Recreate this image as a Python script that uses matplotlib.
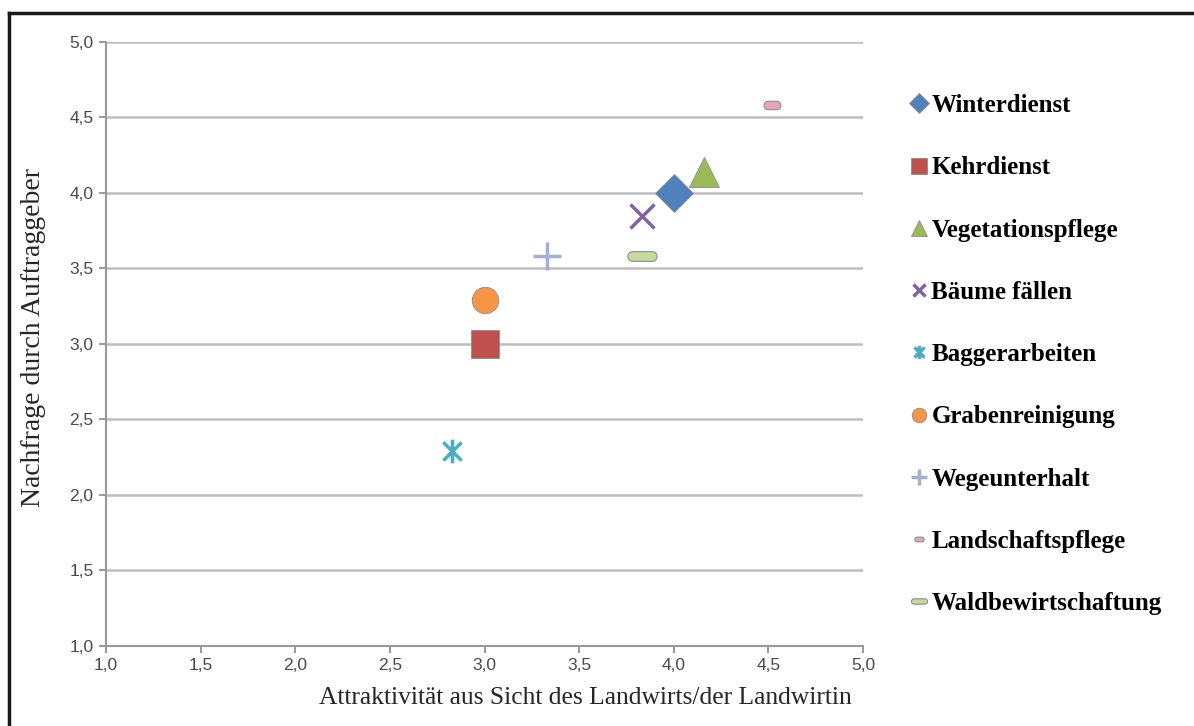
import numpy as np
import matplotlib.pyplot as plt
from matplotlib.path import Path
from matplotlib.lines import Line2D

# data
labels = ['Winterdienst', 'Kehrdienst', 'Vegetationspflege', 'Bäume fällen',
          'Baggerarbeiten', 'Grabenreinigung', 'Wegeunterhalt',
          'Landschaftspflege', 'Waldbewirtschaftung']
attraktivitaet = [4.00, 3.00, 4.16, 3.83, 2.83, 3.00, 3.33, 4.52, 3.83]
nachfrage = [4.00, 3.00, 4.14, 3.85, 2.29, 3.29, 3.58, 4.58, 3.58]
ticks = [1.0, 1.5, 2.0, 2.5, 3.0, 3.5, 4.0, 4.5, 5.0]

colors = ['#4F81BD', '#C0504D', '#9BBB59', '#8064A2', '#4BACC6',
          '#F79646', '#A3B0D6', '#E8A6BC', '#C6DA9E']


def stadium(half_len):
    # rounded bar marker
    t = np.linspace(-np.pi / 2, np.pi / 2, 12)
    right = np.column_stack([half_len + np.cos(t), np.sin(t)])
    left = np.column_stack([-half_len - np.cos(t), -np.sin(t)])
    return Path(np.vstack([right, left, right[:1]]), closed=True)


# asterisk: X with vertical line
star = Path([(-1, -1), (1, 1), (-1, 1), (1, -1), (0, -1.3), (0, 1.3)],
            [Path.MOVETO, Path.LINETO, Path.MOVETO, Path.LINETO, Path.MOVETO, Path.LINETO])

markers = ['D', 's', '^', 'x', star, 'o', '+', stadium(1.0), stadium(2.0)]
filled = [True, True, True, False, False, True, False, True, True]
sizes = [19, 20, 22, 17, 17, 19, 20, 12, 21]
edge_w = [0.6, 0.6, 0.6, 2.5, 2.5, 0.6, 2.5, 0.8, 0.8]

fig = plt.figure(figsize=(11.94, 7.26), dpi=100)
ax = fig.add_axes([0.0888, 0.1102, 0.634, 0.832])

for i, lab in enumerate(labels):
    if filled[i]:
        ax.plot(attraktivitaet[i], nachfrage[i], linestyle='none', marker=markers[i],
                markersize=sizes[i], markerfacecolor=colors[i], markeredgecolor='#8c8c8c',
                markeredgewidth=edge_w[i], label=lab, zorder=3)
    else:
        ax.plot(attraktivitaet[i], nachfrage[i], linestyle='none', marker=markers[i],
                markersize=sizes[i], color=colors[i], markeredgewidth=edge_w[i],
                label=lab, zorder=3)

ax.set_xlim(1.0, 5.0)
ax.set_ylim(1.0, 5.0)
ax.set_xticks(ticks)
ax.set_yticks(ticks)
ax.set_xticklabels([f'{v:.1f}'.replace('.', ',') for v in ticks])
ax.set_yticklabels([f'{v:.1f}'.replace('.', ',') for v in ticks])
ax.tick_params(axis='both', direction='out', length=5, color='#888888', width=1.2,
               labelsize=12.5, labelcolor='#4a4a4a', pad=4)
for lbl in ax.get_xticklabels() + ax.get_yticklabels():
    lbl.set_family('Liberation Sans')

ax.grid(axis='y', color='#BEBEBE', linewidth=1.8)
ax.set_axisbelow(True)
for s in ['top', 'right']:
    ax.spines[s].set_visible(False)
for s in ['left', 'bottom']:
    ax.spines[s].set_color('#999999')
    ax.spines[s].set_linewidth(1.5)

ax.set_xlabel('Attraktivität aus Sicht des Landwirts/der Landwirtin',
              family='Liberation Serif', fontsize=18.4, color='#262626')
ax.xaxis.set_label_coords(0.633, -0.068)
ax.set_ylabel('Nachfrage durch Auftraggeber',
              family='Liberation Serif', fontsize=20, color='#262626')
ax.yaxis.set_label_coords(-0.079, 0.51)

leg = ax.legend(loc='upper left', bbox_to_anchor=(1.049, 0.93), frameon=False,
                markerscale=0.55, handlelength=0.7, handletextpad=0.15,
                labelspacing=1.57, borderaxespad=0,
                prop={'family': 'Liberation Serif', 'weight': 'bold', 'size': 18})

# frame around the picture (left and top edges visible)
fig.add_artist(Line2D([0.0075, 0.0075], [0.0, 0.982], transform=fig.transFigure,
                      color='#1a1a1a', linewidth=2.5))
fig.add_artist(Line2D([0.0075, 1.0], [0.982, 0.982], transform=fig.transFigure,
                      color='#1a1a1a', linewidth=2.5))

fig.savefig('out.png', dpi=100)
